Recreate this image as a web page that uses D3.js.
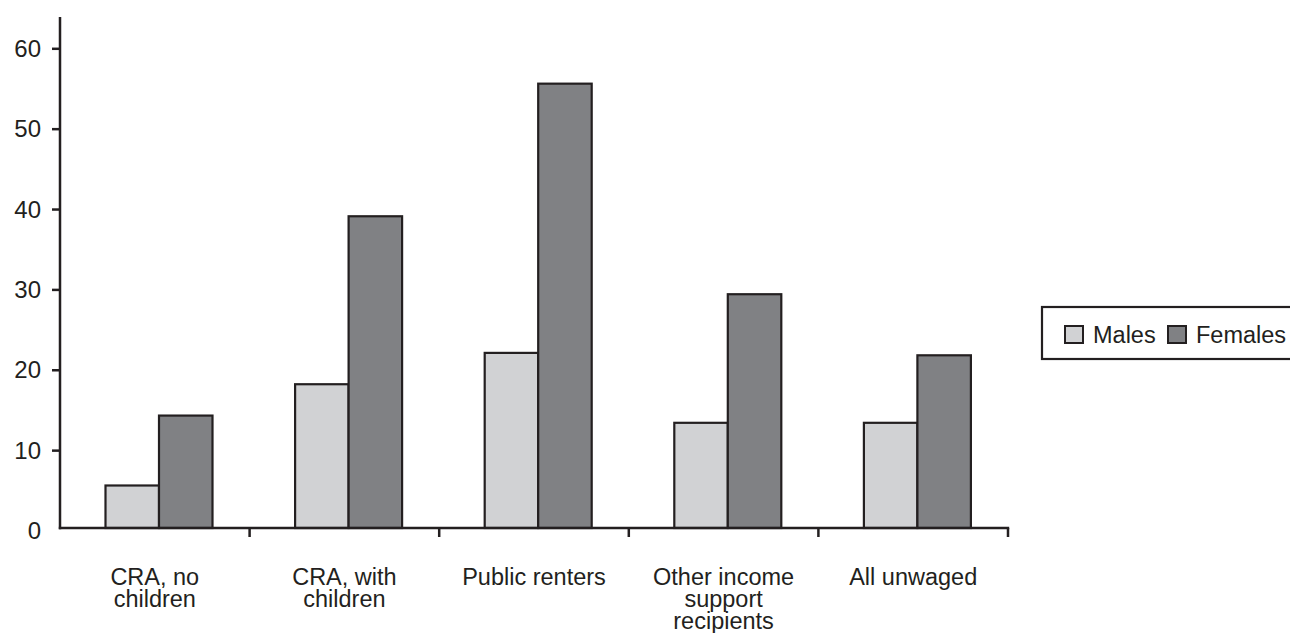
<!DOCTYPE html>
<html>
<head>
<meta charset="utf-8">
<script src="https://cdn.jsdelivr.net/npm/d3@7"></script>
<style>
  body { margin: 0; background: #fff; }
  svg { display: block; font-family: "Liberation Sans", Arial, sans-serif; }
</style>
</head>
<body>
<div id="chart"></div>
<script>
const categories = [["CRA, no", "children"], ["CRA, with", "children"], ["Public renters"], ["Other income", "support", "recipients"], ["All unwaged"]];
const seriesNames = ["Males", "Females"];
const males = [5.6, 18.2, 22.1, 13.4, 13.4];
const females = [14.3, 39.1, 55.6, 29.4, 21.8];
const yTicks = [0, 10, 20, 30, 40, 50, 60];

const colors = {Males: "#d1d2d4", Females: "#808184"};
const ink = "#231f20";

const width = 1290, height = 633;
const svg = d3.select("#chart").append("svg").attr("width", width).attr("height", height);

const keys = categories.map(c => c.join(" "));
const data = keys.map((k, i) => ({key: k, lines: categories[i], Males: males[i], Females: females[i]}));

let x = d3.scaleBand().domain(keys).range([60, 1008]).padding(0);
let x1 = d3.scaleBand().domain(seriesNames).range([45.5, 152.5]).padding(0);
let y = d3.scaleLinear().domain([0, 60]).range([530.5, 48.3]);
const axisY = y(0) - 2.5;
const axisTop = 17;

// bars
const groups = svg.append("g").selectAll("g")
  .data(data)
  .join("g")
    .attr("transform", d => `translate(${x(d.key)},0)`);

groups.selectAll("rect")
  .data(d => seriesNames.map(s => ({s: s, v: d[s]})))
  .join("rect")
    .attr("x", d => x1(d.s))
    .attr("width", x1.bandwidth())
    .attr("y", d => y(d.v))
    .attr("height", d => axisY - y(d.v))
    .attr("fill", d => colors[d.s])
    .attr("stroke", ink)
    .attr("stroke-width", 2.2);

// y axis
const yAxis = d3.axisLeft(y).tickValues(yTicks).tickSize(8).tickPadding(11);
const gy = svg.append("g").attr("transform", "translate(60,0)").call(yAxis);
gy.select(".domain").remove();
gy.selectAll(".tick line").attr("stroke", ink).attr("stroke-width", 2.5)
  .filter(d => d === 0).remove();
gy.selectAll(".tick text").attr("fill", ink).style("font-size", "24px").attr("dy", "0.34em");

svg.append("line")
  .attr("x1", 60).attr("x2", 60)
  .attr("y1", axisTop).attr("y2", axisY + 1.2)
  .attr("stroke", ink).attr("stroke-width", 2.5);

// x axis
svg.append("line")
  .attr("x1", 60 - 1.2).attr("x2", x.range()[1] + 1.2)
  .attr("y1", axisY).attr("y2", axisY)
  .attr("stroke", ink).attr("stroke-width", 2.5);

svg.append("g").selectAll("line")
  .data(keys)
  .join("line")
    .attr("x1", d => x(d) + x.bandwidth()).attr("x2", d => x(d) + x.bandwidth())
    .attr("y1", axisY).attr("y2", axisY + 9)
    .attr("stroke", ink).attr("stroke-width", 2.5);

svg.append("g").selectAll("text")
  .data(data)
  .join("text")
    .attr("x", d => x(d.key) + x.bandwidth() / 2)
    .attr("y", 585)
    .attr("text-anchor", "middle")
    .attr("fill", ink)
    .style("font-size", "23.5px")
  .selectAll("tspan")
  .data(d => d.lines)
  .join("tspan")
    .attr("x", function() { return d3.select(this.parentNode).attr("x"); })
    .attr("dy", (d, i) => i === 0 ? 0 : 22)
    .text(d => d);

// legend
const legend = svg.append("g").attr("transform", "translate(1042,307)");
legend.append("rect")
  .attr("x", 0).attr("y", 0)
  .attr("width", 270).attr("height", 52)
  .attr("fill", "#fff").attr("stroke", ink).attr("stroke-width", 2.2);

const legendX = [23, 126];
seriesNames.forEach((s, i) => {
  legend.append("rect")
    .attr("x", legendX[i]).attr("y", 19)
    .attr("width", 18).attr("height", 17)
    .attr("fill", colors[s]).attr("stroke", ink).attr("stroke-width", 2);
  legend.append("text")
    .attr("x", legendX[i] + 28).attr("y", 36)
    .attr("fill", ink)
    .style("font-size", "23.5px")
    .text(s);
});
</script>
</body>
</html>
